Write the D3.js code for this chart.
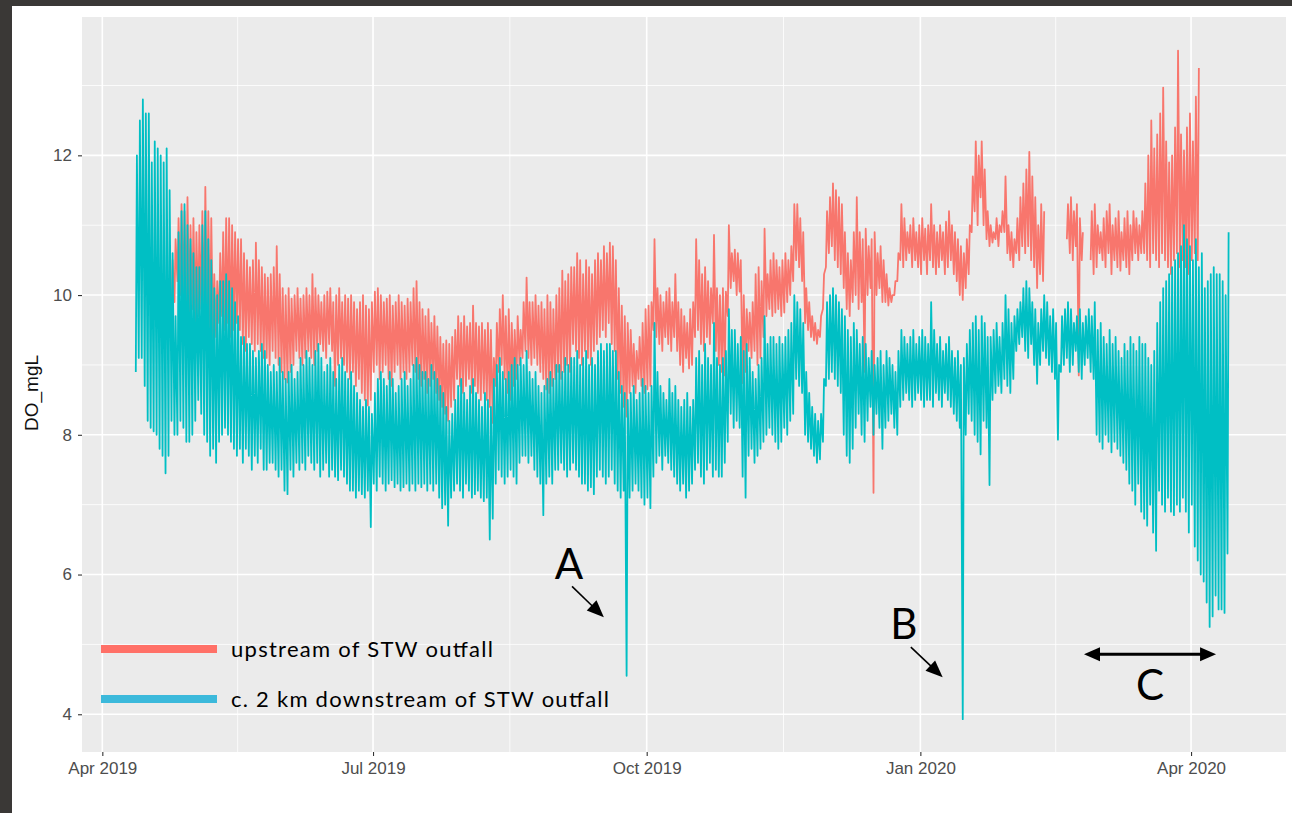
<!DOCTYPE html>
<html>
<head>
<meta charset="utf-8">
<script src="https://cdn.jsdelivr.net/npm/d3@7"></script>
<style>
  body { margin: 0; background: #ffffff; }
  svg { display: block; }
</style>
</head>
<body>
<div id="chart"></div>
<script>

// daily readings, first day = 12 Apr 2019 (one min + one max per day)
var firstDay = "2019-04-12"

// c. 2 km downstream of STW outfall
var downMax = [
  12.0, 12.5, 12.8, 12.6, 12.6, 11.9, 12.2, 12.1, 12.0, 11.9, 12.1, 11.5, 10.6,
  9.7, 10.9, 11.2, 11.3, 11.0, 10.8, 10.6, 10.4, 10.4, 11.0, 11.2, 10.8, 10.5, 10.1,
  10.0, 10.2, 10.2, 10.3, 10.2, 10.1, 9.9, 9.7,
  9.4, 9.4, 9.3, 9.3, 9.2, 9.1, 9.2, 9.3, 9.2, 9.0, 8.9,
  9.0, 8.9, 9.1, 8.9, 8.8, 8.9, 9.0, 8.8, 8.9, 9.1,
  9.0, 9.2, 9.1, 9.0, 9.2, 9.3, 9.1, 8.9, 9.0, 9.1, 8.9, 8.8,
  9.0, 9.1, 8.9, 8.8, 8.9,
  8.7, 8.6, 8.5, 8.4, 8.5, 8.4, 8.3,
  8.6, 8.8, 8.9, 8.8, 8.7, 8.9, 8.8, 8.6, 8.7, 8.8, 8.9, 8.7, 8.8,
  9.0, 9.1, 9.0,
  8.9, 8.9, 8.8, 9.0, 8.9, 8.8, 8.7,
  8.6, 8.4, 8.2, 8.3, 8.5,
  8.7, 8.8, 8.6, 8.5, 8.7, 8.8, 8.6, 8.5, 8.4, 8.6, 8.5, 8.4,
  8.8, 9.0, 9.1, 8.9, 8.8, 8.9,
  9.0, 9.1, 9.0, 9.1, 9.0, 9.2,
  8.9, 8.8, 8.9, 8.7, 8.6, 8.7, 8.8, 8.9, 8.8,
  9.0, 9.0, 8.9, 9.1, 9.0, 9.1,
  9.1, 9.2, 9.0, 9.1, 9.2, 9.0, 9.1, 9.0,
  9.2, 9.3, 9.2, 9.3, 9.3, 9.2, 9.2,
  8.9, 8.7, 8.6, 8.5,
  8.6, 8.7, 8.5, 8.6, 8.8, 8.7, 8.6, 8.7,
  9.6,
  8.9, 8.7, 8.6, 8.5, 8.8, 8.6, 8.7,
  8.5, 8.4, 8.5, 8.6, 8.4, 8.5,
  9.1, 9.2, 9.0, 9.3, 9.1, 9.0, 9.6,
  9.1, 9.0, 9.1, 9.2,
  9.8,
  9.5, 9.5, 9.3, 9.4, 9.2, 9.3,
  9.1, 8.9, 8.8, 9.0, 9.1,
  9.7,
  9.3, 9.4, 9.4, 9.3, 9.4, 9.3, 9.4, 9.5, 9.6,
  10.0,
  9.9, 9.8, 9.6,
  8.9, 8.6, 8.4, 8.3, 8.2, 8.3, 8.8,
  9.9, 10.0, 10.1, 10.0, 9.9, 9.8,
  9.7, 9.5, 9.4, 9.6, 9.5, 9.3, 9.4,
  9.3, 9.1, 9.2, 9.0, 9.1, 9.2, 9.0,
  9.2, 9.1, 9.0, 8.9, 9.2,
  9.5,
  9.4, 9.3, 9.4, 9.5, 9.3, 9.4, 9.5, 9.4, 9.3,
  9.9,
  9.5, 9.3, 9.4, 9.2, 9.3, 9.4, 9.2, 9.1,
  9.2, 9.0, 9.1, 9.3, 9.5,
  9.6, 9.7, 9.5, 9.7, 9.6, 9.4, 9.4,
  9.5, 9.6, 9.4, 9.6,
  10.0,
  9.8, 9.6, 9.7,
  9.8, 9.9, 10.1, 10.2, 10.1, 9.9, 9.8, 9.6, 9.8, 10.0, 9.9, 9.7, 9.8, 9.6, 9.0,
  9.7, 9.8, 9.9, 9.8, 9.6, 9.7, 9.8, 9.6, 9.7, 9.8, 9.7, 9.9,
  9.5, 9.6, 9.4, 9.3, 9.5, 9.3, 9.4, 9.2, 9.1, 9.3, 9.2,
  9.4, 9.3, 9.2, 9.4, 9.3, 9.3, 9.1, 9.0, 9.2, 9.6,
  9.9, 10.1, 10.2, 10.3, 10.4, 10.5, 10.6, 10.7, 11.0,
  10.8, 10.7, 10.5, 10.8, 10.4, 10.6, 10.1,
  10.2, 10.3, 10.4, 10.3, 10.3, 10.2, 10.0, 10.9
]
var downMin = [
  8.9, 9.1, 9.1, 8.7, 8.2, 8.1, 8.05, 8.0, 7.8, 7.7, 7.45, 7.7, 8.2,
  8.0, 8.0, 8.2, 8.1, 7.9, 7.9, 8.0, 8.2, 8.5, 8.3, 8.0, 7.9, 7.7, 7.8,
  7.6, 7.9, 8.0, 8.1, 8.0, 7.9, 7.8, 7.7,
  7.8, 7.6, 7.8, 7.7, 7.5, 7.7, 7.6, 7.8, 7.5, 7.5, 7.6,
  7.6, 7.5, 7.4, 7.5, 7.2, 7.15, 7.5, 7.4, 7.6, 7.5,
  7.6, 7.5, 7.7, 7.6, 7.5, 7.6, 7.4, 7.5, 7.6, 7.4, 7.5, 7.4,
  7.35, 7.5, 7.4, 7.3, 7.2,
  7.2, 7.1, 7.2, 7.15, 7.1, 7.2, 6.68,
  7.3, 7.2, 7.4, 7.3, 7.2, 7.3, 7.35, 7.25, 7.3, 7.2, 7.25, 7.3, 7.2,
  7.3, 7.2, 7.3, 7.25, 7.3, 7.2, 7.3, 7.2, 7.3, 7.1,
  6.95, 7.0, 6.7, 7.1, 7.2,
  7.3, 7.2, 7.1, 7.3, 7.2, 7.1, 7.15, 7.2, 7.1, 7.05, 7.1, 6.5,
  6.8, 7.3, 7.5, 7.4, 7.3, 7.4,
  7.5, 7.4, 7.3, 7.6, 7.7, 7.7,
  7.6, 7.7, 7.5, 7.4, 7.3, 6.85, 7.3, 7.4, 7.3,
  7.5, 7.5, 7.6, 7.5, 7.4, 7.5,
  7.6, 7.5, 7.4, 7.3, 7.3, 7.2, 7.25, 7.15,
  7.4, 7.5, 7.4, 7.3, 7.4, 7.5, 7.3,
  7.2, 7.1, 7.2, 4.55,
  7.1, 7.2, 7.3, 7.2, 7.1, 7.0, 7.1, 6.95,
  7.4, 7.6, 7.7, 7.5, 7.7, 7.6, 7.5, 7.4,
  7.3, 7.2, 7.3, 7.1, 7.2, 7.3,
  7.5, 7.6, 7.4, 7.3, 7.5, 7.6, 7.4, 7.5, 7.4,
  7.4, 7.6, 7.9,
  8.3, 8.1, 8.2, 8.1,
  7.4, 7.1,
  7.7, 7.8, 7.6, 7.7, 7.8,
  7.9, 8.0, 8.1, 8.0, 7.9, 7.8, 7.9, 8.1, 8.0, 8.2,
  8.3,
  8.8, 8.7, 8.6,
  8.0, 7.9, 7.8, 7.7, 7.6, 7.65, 7.9,
  8.7, 8.8, 8.9, 8.8, 8.7, 8.6,
  8.0, 7.7, 7.6, 7.8, 8.1, 8.3, 8.0,
  7.9, 8.2, 8.4, 8.0, 8.3, 8.1, 7.8,
  8.1, 8.2, 8.3, 8.1, 8.0,
  8.4, 8.5, 8.6, 8.5, 8.4, 8.5, 8.6, 8.5, 8.4, 8.5,
  8.5, 8.4, 8.6, 8.5, 8.4, 8.6, 8.5, 8.4, 8.3,
  8.2, 8.1, 3.93, 8.0, 8.3,
  8.2, 8.0, 7.9, 7.72, 8.2, 8.1, 7.28,
  8.5, 8.6, 8.7, 8.6, 8.8, 8.7, 8.6, 8.8,
  9.2, 9.3, 9.4, 9.2, 9.1, 9.3, 9.0, 8.73, 9.0, 9.2, 9.1, 9.0, 8.9, 8.8, 7.93,
  8.9, 9.0, 9.1, 8.9, 9.0, 9.2, 8.9, 8.8, 9.0, 9.1, 8.9, 8.8,
  8.0, 7.9, 7.8, 8.0, 7.9, 7.75, 7.9, 7.8, 7.7, 7.6, 7.5,
  7.3, 7.2, 7.0, 7.3, 6.9, 6.8, 6.7, 7.0, 6.6, 6.34,
  7.2, 7.0, 6.9, 7.1, 6.9, 6.85, 7.0, 6.9, 7.1,
  6.9, 6.6, 7.0, 6.4, 6.2, 6.0, 5.9,
  5.6, 5.25, 5.4, 5.7, 5.5, 5.5, 5.45, 6.3
]

// upstream of STW outfall (null = no reading)
var upMax = [
  null, null, null, null, null, null, null, null, null, null, null, null,
  10.5, 10.8, 11.1, 11.3, 11.2, 11.4, 11.0, 11.1, 10.9, 11.0, 11.2, 11.55, 11.2, 11.1, 10.3, 10.2,
  10.6, 10.9, 11.1, 11.1, 11.0, 10.9, 10.8, 10.8,
  10.6, 10.5, 10.4, 10.5, 10.75, 10.5,
  10.4, 10.3, 10.25, 10.3, 10.4, 10.7, 10.3,
  10.1, 10.0, 10.1, 9.95, 10.0, 10.1, 9.95, 10.0, 10.1, 10.0,
  10.3, 10.1, 10.0, 9.9, 10.0, 10.05, 10.1, 9.9, 10.0, 10.1, 9.9, 10.0, 9.95, 10.0,
  9.9, 9.8, 9.9, 10.0, 9.85, 9.8, 9.9,
  10.05, 10.1, 10.0, 9.9, 9.95, 10.0, 9.85, 9.9, 10.0, 9.9, 9.85, 9.95, 9.9,
  10.1, 10.2, 9.9, 9.8, 9.7, 9.8, 9.6, 9.7, 9.55,
  9.4, 9.3, 9.35, 9.3, 9.4, 9.5,
  9.7, 9.6, 9.7, 9.55, 9.6, 9.85, 9.6, 9.55, 9.6, 9.5, 9.6, 9.5,
  9.1, 9.6, 9.8, 10.0, 9.7,
  9.8, 9.6, 9.5, 9.7, 9.5, 9.9,
  10.25,
  9.9, 9.9, 10.0, 9.85, 9.9, 9.8,
  10.0, 9.9, 9.8, 10.0, 10.1, 10.35, 10.2, 10.3, 10.4,
  10.4, 10.6, 10.5, 10.3, 10.5, 10.4, 10.3, 10.5,
  10.6, 10.5, 10.7, 10.6, 10.75, 10.7, 10.5,
  10.1, 9.85, 9.7, 9.6,
  9.5, 9.3, 9.2, 9.4, 9.6, 9.8, 9.85, 9.9,
  10.8,
  10.1, 10.0, 9.9, 10.05, 10.1, 9.9, 10.3,
  9.9, 9.8, 9.7, 9.6, 9.8, 9.9,
  10.8,
  10.5, 10.3, 10.4, 10.2, 10.1, 10.86,
  10.1, 10.0, 10.1, 10.05,
  11.0,
  10.6, 10.65, 10.6, 10.5,
  10.0, 9.8, 9.75, 9.9, 10.3,
  10.4, 10.2, 10.95, 10.3, 10.5,
  10.6, 10.5, 10.4, 10.5, 10.6, 10.5, 10.7,
  11.3,
  11.3, 11.1, 10.9,
  10.1, 9.9, 9.7, 9.6, 9.5, 9.7, 10.3,
  11.2, 11.4, 11.6, 11.5, 11.4, 11.3,
  10.9, 10.6, 10.5, 10.9,
  11.4,
  10.9, 10.8, 10.95, 10.7, 10.8, 10.9, 10.6, 10.7, 10.5,
  10.3, 10.1, 10.0, 10.2, 10.6,
  11.3,
  11.1, 10.9, 11.0, 11.1, 10.9, 11.0, 11.1, 10.95, 11.0,
  11.3,
  11.0, 10.9, 11.0, 10.9, 11.05, 11.2, 11.0, 10.9,
  10.8, 10.7, 10.6, 10.8, 11.0,
  11.7, 12.2, 12.0, 12.2, 11.8,
  11.2, 11.0, 10.9, 11.1, 11.0, 11.2,
  11.7,
  11.0, 10.9, 10.8,
  11.1, 11.4, 11.6, 11.8, 12.05, 11.7, 11.4, 11.0, 11.3, 11.2,
  null, null, null, null, null, null, null,
  11.3, 11.4, 11.2, 11.3, 11.1, 10.9,
  null, null,
  11.2, 11.3, 11.0, 10.9, 11.1, 11.2, 11.3, 11.0, 11.1, 11.2, 10.9, 11.1, 11.2, 11.0, 11.2, 11.1, 11.0, 11.2,
  11.6, 12.0, 12.5, 12.1, 12.3, 12.6, 12.97, 12.2, 11.9, 12.0, 12.4, 13.5, 12.3, 12.07, 12.4, 12.6, 12.2, 12.84, 13.25,
  null, null, null, null, null, null, null, null, null, null
]
var upMin = [
  null, null, null, null, null, null, null, null, null, null, null, null,
  9.7, 9.9, 10.2, 10.0, 9.9, 9.8, 9.7, 9.8, 9.6, 9.7, 9.8, 9.7, 9.6, 9.5,
  9.25, 9.4, 9.6, 9.7, 9.5, 9.6, 9.4, 9.5, 9.6, 9.5,
  9.3, 9.2, 9.4, 9.3, 9.2, 9.3, 9.2, 9.1,
  9.1, 9.0, 9.2, 9.1, 9.0, 8.9,
  8.8, 8.75, 8.9, 9.0,
  9.2, 9.1, 9.0, 9.1, 9.2, 9.1, 9.0, 9.2, 9.3,
  9.2, 9.1, 9.3, 9.2, 8.7, 9.0, 9.1, 9.0, 8.9, 8.8,
  8.9, 8.7, 8.8, 8.6, 8.5, 8.42, 8.5,
  8.9, 9.0, 8.8, 8.9, 9.0, 8.8, 8.7, 8.9, 9.0, 8.8, 8.9, 8.8, 8.9,
  9.0, 8.9, 8.8, 8.7, 8.8, 8.6, 8.7, 8.8, 8.6,
  8.5, 8.4, 8.3, 8.2, 8.4, 8.5,
  8.8, 8.7, 8.6, 8.7, 8.8, 8.6, 8.7, 8.6, 8.5, 8.6, 8.5, 8.4,
  8.17, 8.7, 8.9, 9.0, 8.8,
  8.6, 8.5, 8.7, 8.8, 9.0, 9.1,
  9.2, 9.1, 9.0, 9.1, 9.0, 8.9, 8.8,
  8.65, 8.6, 8.7, 8.8, 8.9, 8.8, 8.9, 9.0, 8.9,
  9.3, 9.2, 9.1, 9.0, 9.2, 9.1, 9.0, 9.2,
  9.3, 9.4, 9.5, 9.4, 9.6, 9.3, 9.2,
  8.8, 8.6, 8.4, 8.26,
  8.6, 8.7, 8.6, 8.8, 8.7, 8.6, 8.65, 8.7,
  9.5, 9.4, 9.3, 9.2, 9.4, 9.3, 9.2, 9.4, 9.2,
  9.0, 8.9, 9.1, 8.95, 9.0,
  9.4, 9.5, 9.3, 9.2, 9.4, 9.3, 9.6, 9.2,
  9.0, 8.9, 8.85,
  9.7, 10.1, 10.2, 10.0, 10.05,
  8.74, 8.9,
  9.2, 9.1, 9.2, 9.0, 9.1,
  9.4, 9.7, 9.8, 9.7, 9.75, 9.8, 9.7, 9.75, 9.9, 10.0,
  10.2,
  10.5, 10.4, 10.2,
  9.6, 9.5, 9.4, 9.35, 9.3, 9.4, 9.8,
  10.4, 10.6, 10.7, 10.5, 10.4, 10.3,
  10.1, 9.8, 9.7, 9.9, 10.0, 9.8, 9.9,
  8.9, 10.0, 10.1, 7.17, 10.0, 10.1, 9.9,
  9.9, 9.85, 9.9, 10.0, 10.2,
  10.5, 10.4, 10.5, 10.6, 10.4, 10.5, 10.4, 10.3, 10.5, 10.3,
  10.5, 10.4, 10.3, 10.4, 10.5, 10.3, 10.4, 10.5, 10.3,
  10.2, 10.0, 9.93, 10.1, 10.3,
  10.9, 11.2, 11.0, 11.4, 11.0,
  10.8, 10.7, 10.75, 10.8, 10.7, 10.9,
  10.9, 10.6, 10.5, 10.4,
  10.6, 10.5, 10.7, 10.6, 10.7, 10.5, 10.4, 10.1, 10.3, 10.2,
  null, null, null, null, null, null, null,
  10.8, 10.6, 10.5, 10.7, 8.85, 10.5,
  null, null,
  10.5, 10.3, 10.4, 10.6, 10.5, 10.4, 10.6, 10.3, 10.5, 10.4, 10.35, 10.5, 10.4, 10.3, 10.5, 10.6, 10.5, 10.6,
  10.6, 10.5, 10.4, 10.6, 10.5, 10.4, 10.6, 10.5, 10.4, 10.3, 10.5, 10.6, 10.4, 10.5, 10.4, 10.3, 10.5, 10.6, 10.5,
  null, null, null, null, null, null, null, null, null, null
]

var yTicks = [4, 6, 8, 10, 12]
var yMinor = [5, 7, 9, 11, 13]
var xTicks = ["2019-04-01", "2019-07-01", "2019-10-01", "2020-01-01", "2020-04-01"]
var xTickLabels = ["Apr 2019", "Jul 2019", "Oct 2019", "Jan 2020", "Apr 2020"]

var seriesNames = ["upstream of STW outfall", "c. 2 km downstream of STW outfall"]

// annotations (date, DO value)
var noteLetters = [
  {text: "A", t: "2019-09-04T21:36Z", v: 5.94},
  {text: "B", t: "2019-12-26T09:36Z", v: 5.08},
  {text: "C", t: "2020-03-18T04:48Z", v: 4.20}
]
var noteArrows = [
  {t1: "2019-09-05T21:36Z", v1: 5.83, t2: "2019-09-16T14:24Z", v2: 5.39, both: false},
  {t1: "2019-12-28T19:12Z", v1: 4.96, t2: "2020-01-08T12:00Z", v2: 4.53, both: false},
  {t1: "2020-02-25T00:00Z", v1: 4.86, t2: "2020-04-09T09:36Z", v2: 4.86, both: true}
]

var W = 1292, H = 813
var svg = d3.select("#chart").append("svg").attr("width", W).attr("height", H)

svg.append("rect").attr("width", W).attr("height", H).attr("fill", "#ffffff")
// dark frame of the screenshot
svg.append("rect").attr("x", 0).attr("y", 0).attr("width", W).attr("height", 6).attr("fill", "#3a3836")
svg.append("rect").attr("x", 0).attr("y", 0).attr("width", 12).attr("height", H).attr("fill", "#3a3836")

var pL = 82, pR = 1286, pT = 17, pB = 752

var x = d3.scaleUtc()
  .domain([new Date(Date.UTC(2019, 2, 25, 4)), new Date(Date.UTC(2020, 4, 2, 22))])
  .range([pL, pR])
var y = d3.scaleLinear().domain([3.46, 13.98]).range([pB, pT])

// panel
svg.append("rect")
  .attr("x", pL).attr("y", pT)
  .attr("width", pR - pL).attr("height", pB - pT)
  .attr("fill", "#ebebeb")

var grid = svg.append("g")
var majorDates = xTicks.map(function(s){ return new Date(s + "T00:00Z") })
var minorDates = []
for (var k = 0; k < majorDates.length - 1; k++) {
  minorDates.push(new Date((majorDates[k].getTime() + majorDates[k + 1].getTime()) / 2))
}

yMinor.forEach(function(v){
  grid.append("line").attr("x1", pL).attr("x2", pR)
    .attr("y1", y(v)).attr("y2", y(v))
    .attr("stroke", "#fff").attr("stroke-width", 0.8)
})
minorDates.forEach(function(d){
  grid.append("line").attr("y1", pT).attr("y2", pB)
    .attr("x1", x(d)).attr("x2", x(d))
    .attr("stroke", "#fff").attr("stroke-width", 0.8)
})
yTicks.forEach(function(v){
  grid.append("line").attr("x1", pL).attr("x2", pR)
    .attr("y1", y(v)).attr("y2", y(v))
    .attr("stroke", "#fff").attr("stroke-width", 1.6)
})
majorDates.forEach(function(d){
  grid.append("line").attr("y1", pT).attr("y2", pB)
    .attr("x1", x(d)).attr("x2", x(d))
    .attr("stroke", "#fff").attr("stroke-width", 1.6)
})

// series
var day0 = new Date(firstDay + "T00:00Z").getTime()
function buildPoints(mins, maxs) {
  var pts = []
  for (var i = 0; i < mins.length; i++) {
    var d = day0 + i * 864e5
    pts.push({t: new Date(d + 6 * 36e5), v: mins[i]})
    pts.push({t: new Date(d + 15 * 36e5), v: maxs[i]})
  }
  return pts
}

var line = d3.line()
  .defined(function(d){ return d.v != null })
  .x(function(d){ return x(d.t) })
  .y(function(d){ return y(d.v) })

svg.append("path")
  .datum(buildPoints(upMin, upMax))
  .attr("d", line)
  .attr("fill", "none")
  .attr("stroke", "#F8766D")
  .attr("stroke-width", 1.8)
  .attr("stroke-linejoin", "round")

svg.append("path")
  .datum(buildPoints(downMin, downMax))
  .attr("d", line)
  .attr("fill", "none")
  .attr("stroke", "#00BFC4")
  .attr("stroke-width", 1.8)
  .attr("stroke-linejoin", "round")

// axes
var xAxis = svg.append("g").attr("transform", "translate(0," + pB + ")")
  .call(d3.axisBottom(x).tickValues(majorDates).tickSize(4).tickPadding(6)
    .tickFormat(function(d, i){ return xTickLabels[i] }))
var yAxis = svg.append("g").attr("transform", "translate(" + pL + ",0)")
  .call(d3.axisLeft(y).tickValues(yTicks).tickSize(4).tickPadding(6))

;[xAxis, yAxis].forEach(function(a){
  a.select(".domain").remove()
  a.selectAll(".tick line").attr("stroke", "#333333").attr("stroke-width", 1.1)
  a.selectAll(".tick text")
    .attr("fill", "#4d4d4d")
    .style("font-family", "'Liberation Sans', Arial, sans-serif")
    .style("font-size", "17px")
})

svg.append("text")
  .attr("transform", "translate(38,393) rotate(-90)")
  .attr("text-anchor", "middle")
  .style("font-family", "'Liberation Sans', Arial, sans-serif")
  .style("font-size", "19px")
  .attr("fill", "#111")
  .text("DO_mgL")

// legend
var legendColors = ["#FF7067", "#3CB9DB"]
var legendWidths = [262, 378]
seriesNames.forEach(function(name, i){
  var ly = 649 + i * 50
  svg.append("line")
    .attr("x1", 101).attr("x2", 217)
    .attr("y1", ly).attr("y2", ly)
    .attr("stroke", legendColors[i]).attr("stroke-width", 8)
  svg.append("text")
    .attr("x", 231).attr("y", ly + 8)
    .attr("textLength", legendWidths[i])
    .style("font-family", "Lato, 'Open Sans', sans-serif")
    .style("font-size", "22px")
    .attr("fill", "#000")
    .text(name)
})

// annotations
function head(x1, y1, x2, y2, len, half) {
  var a = Math.atan2(y2 - y1, x2 - x1)
  var bx = x2 - len * Math.cos(a), by = y2 - len * Math.sin(a)
  var px = -Math.sin(a) * half, py = Math.cos(a) * half
  return [[x2, y2], [bx + px, by + py], [bx - px, by - py]].map(function(p){ return p.join(",") }).join(" ")
}

noteLetters.forEach(function(n){
  svg.append("text")
    .attr("x", x(new Date(n.t))).attr("y", y(n.v))
    .attr("text-anchor", "middle")
    .style("font-family", "Lato, 'Open Sans', sans-serif")
    .style("font-size", "42px")
    .attr("fill", "#000")
    .text(n.text)
})

noteArrows.forEach(function(n){
  var x1 = x(new Date(n.t1)), y1 = y(n.v1)
  var x2 = x(new Date(n.t2)), y2 = y(n.v2)
  var w = n.both ? 3 : 1.6
  var len = n.both ? 16 : 17
  var half = 7
  var a = Math.atan2(y2 - y1, x2 - x1)
  var sx = n.both ? x1 + (len - 2) * Math.cos(a) : x1
  var sy = n.both ? y1 + (len - 2) * Math.sin(a) : y1
  svg.append("line")
    .attr("x1", sx).attr("y1", sy)
    .attr("x2", x2 - (len - 2) * Math.cos(a)).attr("y2", y2 - (len - 2) * Math.sin(a))
    .attr("stroke", "#000").attr("stroke-width", w)
  svg.append("polygon").attr("points", head(x1, y1, x2, y2, len, half)).attr("fill", "#000")
  if (n.both) {
    svg.append("polygon").attr("points", head(x2, y2, x1, y1, len, half)).attr("fill", "#000")
  }
})

</script>
</body>
</html>
